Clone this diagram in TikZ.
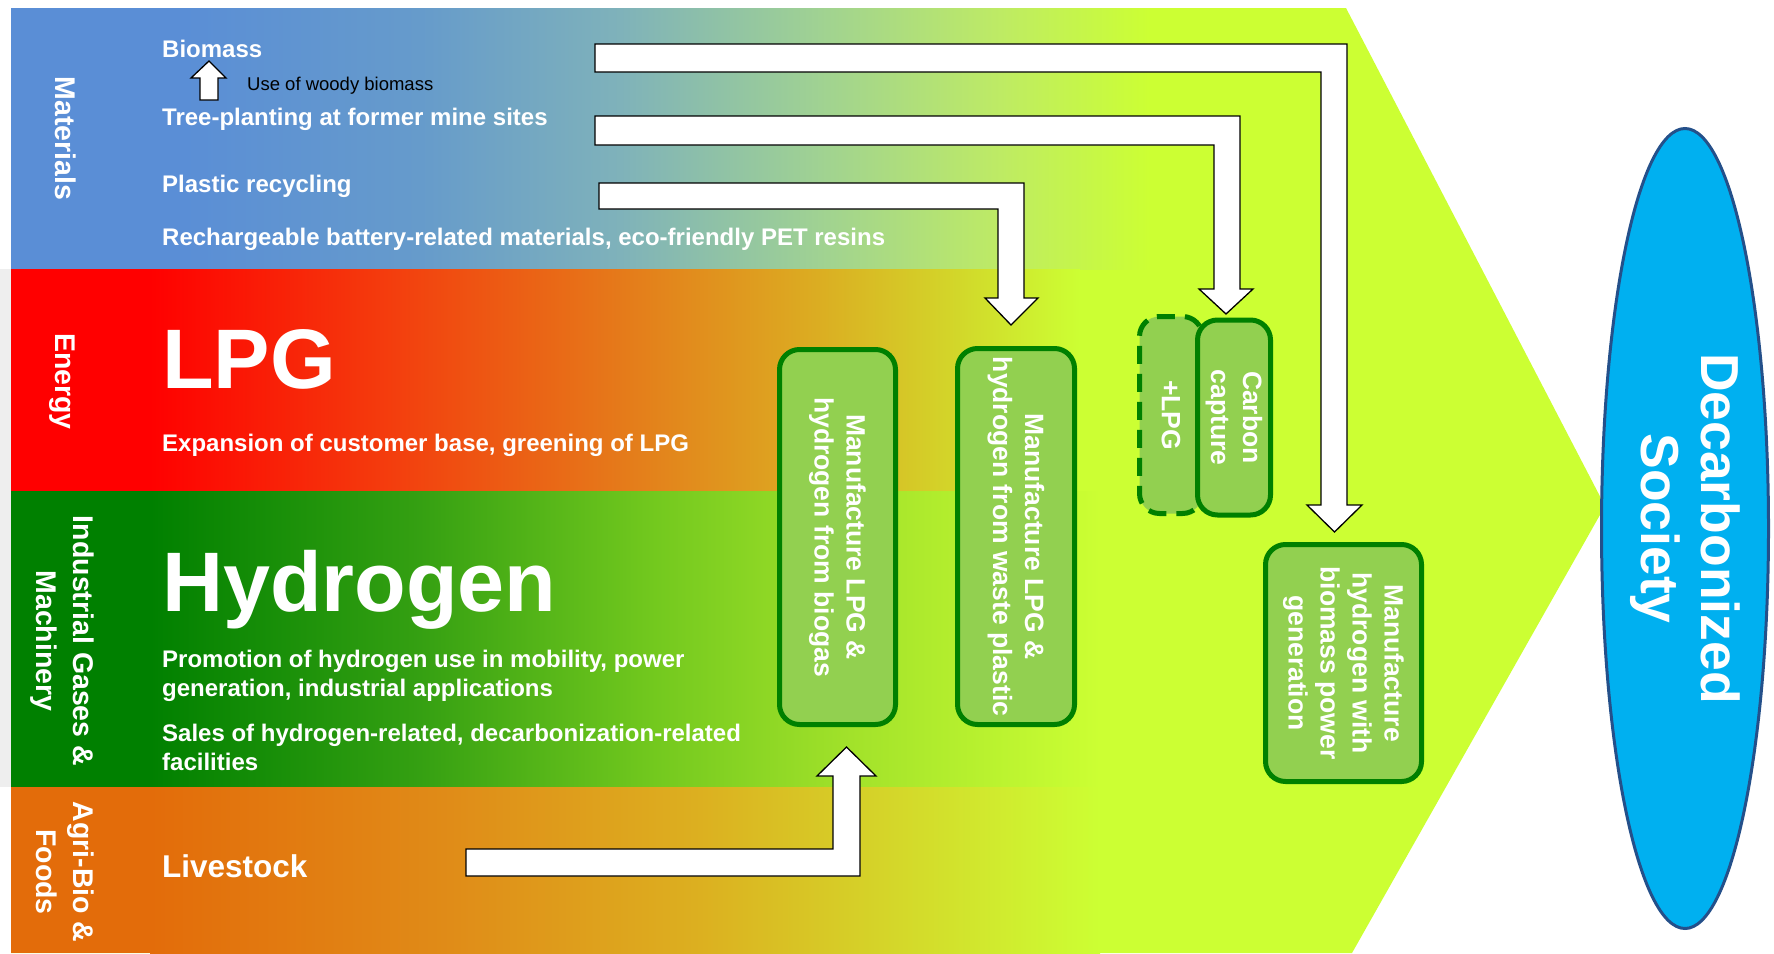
\documentclass[tikz,border=0pt]{standalone}
\usepackage{fontspec}
\setmainfont{Liberation Sans}
\usetikzlibrary{shapes.geometric}
\definecolor{lime}{HTML}{CCFF33}
\definecolor{boxfill}{HTML}{92D050}
\definecolor{boxline}{HTML}{008000}
\definecolor{ellfill}{HTML}{00B0F0}
\definecolor{ellline}{HTML}{24508A}
\definecolor{stripgray}{HTML}{EEEEEE}
% Materials band
\definecolor{mA}{HTML}{5A8ED6}\definecolor{mB}{HTML}{669BCB}\definecolor{mC}{HTML}{7FB2BA}
\definecolor{mD}{HTML}{A0D292}\definecolor{mE}{HTML}{BEEB64}
% Energy band
\definecolor{eA}{HTML}{FF0000}\definecolor{eB}{HTML}{F3400E}\definecolor{eC}{HTML}{E57A1A}
\definecolor{eD}{HTML}{DBAE22}\definecolor{eE}{HTML}{D2D82A}
% Industrial band
\definecolor{gA}{HTML}{008000}\definecolor{gB}{HTML}{35A012}\definecolor{gC}{HTML}{72C81E}
\definecolor{gD}{HTML}{A2E22A}
% Agri band
\definecolor{aA}{HTML}{E36C0A}\definecolor{aB}{HTML}{E08C18}\definecolor{aC}{HTML}{DCB020}
\definecolor{aD}{HTML}{D4D82A}
\tikzset{
  lbl/.style={anchor=base west, text=white, inner sep=0, font=\bfseries\fontsize{24}{29}\selectfont},
  bigtitle/.style={anchor=base west, text=white, inner sep=0, font=\bfseries\fontsize{84.5}{90}\selectfont},
  cat/.style={rotate=-90, text=white, align=center, inner sep=0, font=\bfseries\fontsize{28.5}{37}\selectfont},
  procbox/.style={rotate=-90, draw=boxline, fill=boxfill, line width=5, rounded corners=20,
    text=white, align=center, inner sep=0, font=\bfseries\fontsize{26.5}{32}\selectfont},
  blockarrow/.style={fill=white, draw=black, line width=1.3, line join=miter},
}
\begin{document}
\begin{tikzpicture}[x=1pt,y=-1pt]
\useasboundingbox (0,0) rectangle (1774,953);
\fill[white] (0,0) rectangle (1774,953);
% chevron
\fill[lime] (11,8) -- (1346,8) -- (1605,506) -- (1352,953) -- (11,953) -- cycle;
% Materials band
\fill[mA] (11,8) rectangle (181,269);
\shade[left color=mA, right color=mB] (180,8) rectangle (421,269);
\shade[left color=mB, right color=mC] (420,8) rectangle (621,269);
\shade[left color=mC, right color=mD] (620,8) rectangle (821,269);
\shade[left color=mD, right color=mE] (820,8) rectangle (1001,269);
\shade[left color=mE, right color=lime] (1000,8) rectangle (1150,269);
% Energy band
\fill[eA] (11,269) rectangle (151,491);
\shade[left color=eA, right color=eB] (150,269) rectangle (401,491);
\shade[left color=eB, right color=eC] (400,269) rectangle (621,491);
\shade[left color=eC, right color=eD] (620,269) rectangle (821,491);
\shade[left color=eD, right color=eE] (820,269) rectangle (961,491);
\shade[left color=eE, right color=lime] (960,269) rectangle (1080,491);
% Industrial band
\fill[gA] (11,491) rectangle (151,787);
\shade[left color=gA, right color=gB] (150,491) rectangle (421,787);
\shade[left color=gB, right color=gC] (420,491) rectangle (651,787);
\shade[left color=gC, right color=gD] (650,491) rectangle (851,787);
\shade[left color=gD, right color=lime] (850,491) rectangle (1100,787);
% Agri band
\fill[aA] (11,787) rectangle (151,953);
\shade[left color=aA, right color=aB] (150,787) rectangle (451,953);
\shade[left color=aB, right color=aC] (450,787) rectangle (701,953);
\shade[left color=aC, right color=aD] (700,787) rectangle (901,953);
\shade[left color=aD, right color=lime] (900,787) rectangle (1100,953);
\fill[stripgray] (0,269) rectangle (11,787);

% category labels
\node[cat, anchor=base] (materials) at (55,138.5) {Materials};
\node[cat, anchor=base] (energy) at (55,381.5) {Energy};
\node[cat] (industrial) at (62,641) {Industrial Gases \&\\Machinery};
\node[cat] (agri) at (65,872) {Agri-Bio \&\\Foods};

% materials texts
\node[lbl] (biomass) at (162,57) {Biomass};
\node[anchor=base west, inner sep=0, font=\fontsize{18.5}{22}\selectfont] (woody) at (247,90) {Use of woody biomass};
\node[lbl] (tree) at (162,125) {Tree-planting at former mine sites};
\node[lbl] (plastic) at (162,192) {Plastic recycling};
\node[lbl] (battery) at (162,245) {Rechargeable battery-related materials, eco-friendly PET resins};
% energy texts
\node[bigtitle] (lpg) at (162,388) {LPG};
\node[lbl] (expansion) at (162,451) {Expansion of customer base, greening of LPG};
% industrial texts
\node[bigtitle] (hydrogen) at (162,611) {Hydrogen};
\node[lbl, align=left] (promotion) at (162,696) {Promotion of hydrogen use in mobility, power\\generation, industrial applications};
\node[lbl, align=left] (sales) at (162,770) {Sales of hydrogen-related, decarbonization-related\\facilities};
% agri text
\node[lbl, font=\bfseries\fontsize{31.5}{37}\selectfont] (livestock) at (162,877) {Livestock};

% block arrows
\draw[blockarrow] (200,100) -- (218,100) -- (218,78) -- (226,78) -- (209,61) -- (191,78) -- (200,78) -- cycle;
\draw[blockarrow] (595,44) -- (1347,44) -- (1347,505) -- (1362,505) -- (1334.5,532) -- (1307,505) -- (1321,505) -- (1321,72) -- (595,72) -- cycle;
\draw[blockarrow] (595,116) -- (1240,116) -- (1240,289) -- (1253,289) -- (1226,314) -- (1199,289) -- (1214,289) -- (1214,145) -- (595,145) -- cycle;
\draw[blockarrow] (599,183) -- (1024,183) -- (1024,298) -- (1038,298) -- (1011,325) -- (985,298) -- (998,298) -- (998,209) -- (599,209) -- cycle;
\draw[blockarrow] (466,876) -- (860,876) -- (860,776) -- (876,776) -- (846.5,747) -- (817,776) -- (833,776) -- (833,849) -- (466,849) -- cycle;

% process boxes
\node[procbox, minimum width=375, minimum height=116] (biogas) at (837.5,537) {Manufacture LPG \&\\hydrogen from biogas};
\node[procbox, minimum width=376, minimum height=117] (waste) at (1016,536.5) {Manufacture LPG \&\\hydrogen from waste plastic};
\node[procbox, dash pattern=on 18 off 10, minimum width=197, minimum height=63] (pluslpg) at (1171,415) {+LPG};
\node[procbox, minimum width=195, minimum height=73] (carbon) at (1234,417.5) {Carbon\\capture};
\node[procbox, minimum width=237, minimum height=156] (power) at (1343.5,663) {Manufacture\\hydrogen with\\biomass power\\generation};

% goal
\node[ellipse, rotate=-90, draw=ellline, fill=ellfill, line width=3, minimum width=800, minimum height=167,
  inner sep=0, text=white, align=center, font=\bfseries\fontsize{53.5}{60}\selectfont] (society) at (1685,528.5) {Decarbonized\\Society};
\end{tikzpicture}
\end{document}
